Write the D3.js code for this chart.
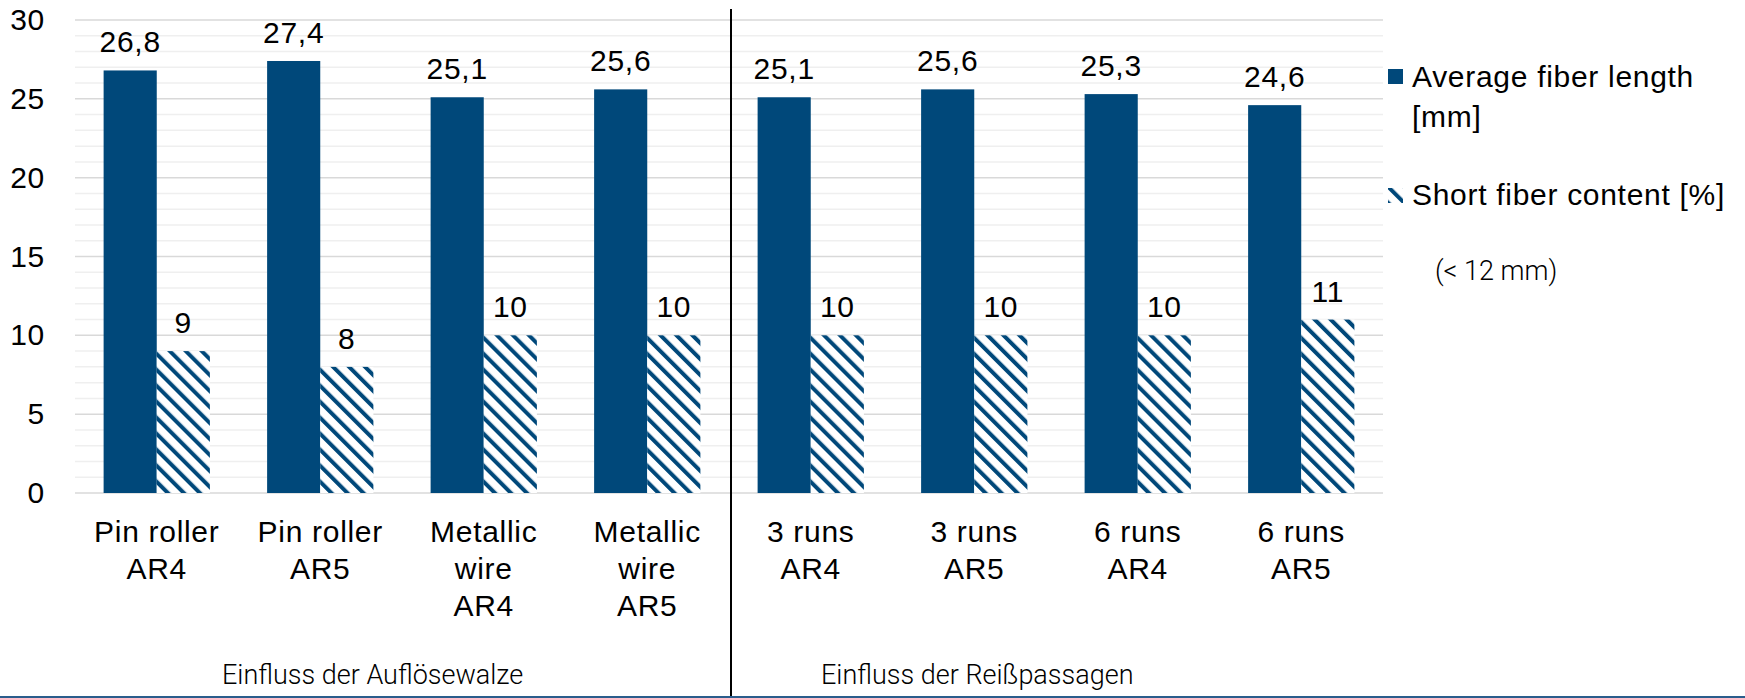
<!DOCTYPE html>
<html>
<head>
<meta charset="utf-8">
<script src="https://cdn.jsdelivr.net/npm/d3@7/dist/d3.min.js"></script>
<style>
  html, body { margin: 0; padding: 0; background: #ffffff; }
  svg { display: block; }
  text { font-family: "Liberation Sans", Arial, sans-serif; fill: #000; letter-spacing: 0.7px; }
  text.light { letter-spacing: 0; }
</style>
</head>
<body>
<svg id="chart" width="1745" height="698"></svg>
<script>
// ---- data ----
const categories = [
  "Pin roller AR4", "Pin roller AR5", "Metallic wire AR4", "Metallic wire AR5",
  "3 runs AR4", "3 runs AR5", "6 runs AR4", "6 runs AR5"
];
const categoryLines = [
  ["Pin roller", "AR4"], ["Pin roller", "AR5"], ["Metallic", "wire", "AR4"], ["Metallic", "wire", "AR5"],
  ["3 runs", "AR4"], ["3 runs", "AR5"], ["6 runs", "AR4"], ["6 runs", "AR5"]
];
const avgFiberLength = [26.8, 27.4, 25.1, 25.6, 25.1, 25.6, 25.3, 24.6];
const shortFiberContent = [9, 8, 10, 10, 10, 10, 10, 11];
const seriesNames = ["Average fiber length", "Short fiber content [%]"];
const yTicks = [0, 5, 10, 15, 20, 25, 30];
const groupLabels = ["Einfluss der Auflösewalze", "Einfluss der Reißpassagen"];
const groupSize = 4;

// ---- layout ----
const W = 1745, H = 698;
const plot = { left: 75, right: 1383, top: 20, bottom: 493 };
const barColor = "#00487a";
const fontSize = 30;

const svg = d3.select("#chart");
const deLocale = d3.formatLocale({ decimal: ",", thousands: ".", grouping: [3], currency: ["", " €"] });
const fmt1 = deLocale.format(".1f");
const fmt0 = deLocale.format(".0f");

// hatch pattern: downward diagonal stripes on white
const defs = svg.append("defs");
const pat = defs.append("pattern")
  .attr("id", "hatch")
  .attr("patternUnits", "userSpaceOnUse")
  .attr("width", 11.3).attr("height", 11.3)
  .attr("patternTransform", "rotate(-45)");
pat.append("rect").attr("width", 11.3).attr("height", 11.3).attr("fill", "#ffffff");
pat.append("rect").attr("x", 0).attr("width", 4).attr("height", 11.3).attr("fill", barColor);

// scales
const y = d3.scaleLinear().domain([0, 30]).range([plot.bottom, plot.top]);
const x0 = d3.scaleBand().domain(categories).range([plot.left, plot.right]).padding(0);
const barW = x0.bandwidth() * 0.325;
const x1 = d3.scaleBand().domain(seriesNames).range([0, 2 * barW]).padding(0);
const groupOffset = (x0.bandwidth() - 2 * barW) / 2;

// minor gridlines
const minorTicks = d3.range(0, 31, 1).filter(v => v % 5 !== 0);
svg.append("g").selectAll("line").data(minorTicks).join("line")
  .attr("x1", plot.left).attr("x2", plot.right)
  .attr("y1", d => y(d)).attr("y2", d => y(d))
  .attr("stroke", "#efefef").attr("stroke-width", 1.5);

// major gridlines
svg.append("g").selectAll("line").data(yTicks).join("line")
  .attr("x1", plot.left).attr("x2", plot.right)
  .attr("y1", d => y(d)).attr("y2", d => y(d))
  .attr("stroke", "#d9d9d9").attr("stroke-width", 1.5);

// y axis labels
const yAxis = d3.axisLeft(y).tickValues(yTicks).tickSize(0).tickPadding(30).tickFormat(d3.format("d"));
const gy = svg.append("g").attr("transform", `translate(${plot.left},0)`).call(yAxis);
gy.select(".domain").remove();
gy.selectAll("text").style("font-size", fontSize + "px").style("font-family", '"Liberation Sans", Arial, sans-serif').attr("fill", "#000");

// bars
const rows = categories.map((c, i) => ({ cat: c, vals: [avgFiberLength[i], shortFiberContent[i]] }));
const groups = svg.append("g").selectAll("g").data(rows).join("g")
  .attr("transform", d => `translate(${x0(d.cat) + groupOffset},0)`);

groups.append("rect")
  .attr("x", x1(seriesNames[0])).attr("width", x1.bandwidth())
  .attr("y", d => y(d.vals[0])).attr("height", d => y(0) - y(d.vals[0]))
  .attr("fill", barColor);

groups.append("rect")
  .attr("x", x1(seriesNames[1])).attr("width", x1.bandwidth())
  .attr("y", d => y(d.vals[1])).attr("height", d => y(0) - y(d.vals[1]))
  .attr("fill", "url(#hatch)");

// value labels
groups.append("text")
  .attr("x", x1(seriesNames[0]) + x1.bandwidth() / 2)
  .attr("y", d => y(d.vals[0]) - 18)
  .attr("text-anchor", "middle").style("font-size", fontSize + "px")
  .text(d => fmt1(d.vals[0]));

groups.append("text")
  .attr("x", x1(seriesNames[1]) + x1.bandwidth() / 2)
  .attr("y", d => y(d.vals[1]) - 18)
  .attr("text-anchor", "middle").style("font-size", fontSize + "px")
  .text(d => fmt0(d.vals[1]));

// category labels
const catText = svg.append("g").selectAll("text").data(categories).join("text")
  .attr("text-anchor", "middle").style("font-size", fontSize + "px")
  .attr("transform", d => `translate(${x0(d) + x0.bandwidth() / 2},542)`);
catText.selectAll("tspan").data((d, i) => categoryLines[i]).join("tspan")
  .attr("x", 0).attr("y", (d, i) => i * 37).text(d => d);

// group separator
const sepX = x0(categories[groupSize]) + 2;
svg.append("line")
  .attr("x1", sepX).attr("x2", sepX).attr("y1", 9).attr("y2", H)
  .attr("stroke", "#000").attr("stroke-width", 2);

// group labels
const groupLabelX = [222, 821];
svg.append("g").selectAll("text").data(groupLabels).join("text")
  .attr("class", "light")
  .attr("x", (d, i) => groupLabelX[i]).attr("y", 684)
  .style("font-family", 'Roboto, "Noto Sans", sans-serif').style("font-weight", 300)
  .style("font-size", "27px").attr("fill", "#1a1a1a")
  .text(d => d);

// bottom rule
svg.append("line")
  .attr("x1", 0).attr("x2", W).attr("y1", H - 1).attr("y2", H - 1)
  .attr("stroke", "#2a5d8c").attr("stroke-width", 2);

// legend
const legend = svg.append("g");
legend.append("rect").attr("x", 1388).attr("y", 69).attr("width", 15).attr("height", 15).attr("fill", barColor);
legend.append("text").style("font-size", fontSize + "px")
  .selectAll("tspan").data(["Average fiber length", "[mm]"]).join("tspan")
  .attr("x", 1412).attr("y", (d, i) => 87 + i * 40).text(d => d);

legend.append("rect").attr("x", 1388).attr("y", 188).attr("width", 15).attr("height", 15).attr("fill", "url(#hatch)");
legend.append("text").attr("x", 1412).attr("y", 205).style("font-size", fontSize + "px").text(seriesNames[1]);
legend.append("text").attr("class", "light").attr("x", 1435).attr("y", 280)
  .style("font-family", 'Roboto, "Noto Sans", sans-serif').style("font-weight", 300)
  .style("font-size", "27px").attr("fill", "#1a1a1a")
  .text("(< 12 mm)");
</script>
</body>
</html>
